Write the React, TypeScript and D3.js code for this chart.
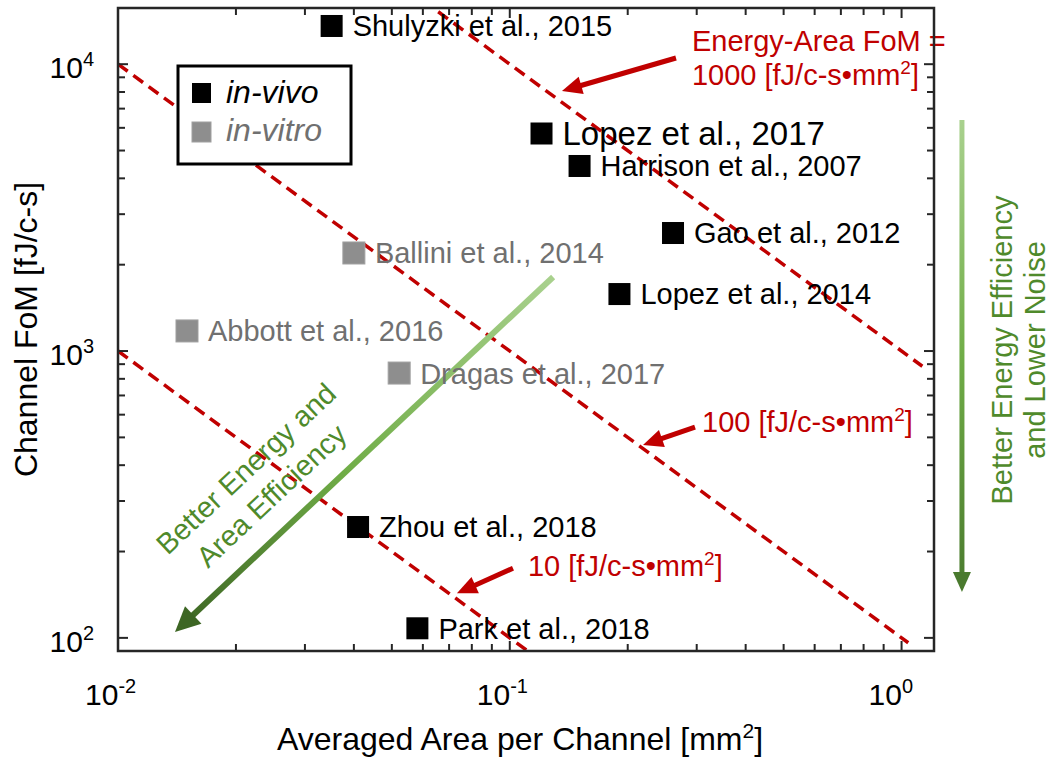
import React from 'react';
import * as d3 from 'd3';

// ---------------- data ----------------
const inVivoLabels = ['Shulyzki et al., 2015', 'Lopez et al., 2017', 'Harrison et al., 2007', 'Gao et al., 2012', 'Lopez et al., 2014', 'Zhou et al., 2018', 'Park et al., 2018'];
const inVivoArea = [0.0351, 0.1205, 0.1507, 0.261, 0.1905, 0.041, 0.0581];
const inVivoFoM = [13590, 5733, 4417, 2579, 1580, 243.5, 108];
const inVivoLabelSize = [29, 33, 29, 29, 29, 29, 29];

const inVitroLabels = ['Ballini et al., 2014', 'Abbott et al., 2016', 'Dragas et al., 2017'];
const inVitroArea = [0.04, 0.015, 0.0522];
const inVitroFoM = [2197, 1175, 838];

const fomLevels = [10, 100, 1000];
const fomAreaStart = [0.01, 0.01, 0.06];
const fomAreaEnd = [0.115, 1.04, 1.13];
const fomLabelPrefix = ['', '', 'Energy-Area FoM ='];
const fomLabelArea = [0.1113, 0.3095, 0.2917];
const fomLabelFoM = [164, 522, 11120];
const fomArrowTailArea = [0.1019, 0.297, 0.2656];
const fomArrowTailFoM = [175, 543, 10510];
const fomArrowTipArea = [0.0733, 0.2188, 0.1359];
const fomArrowTipFoM = [143, 470, 8063];

const diagArrowArea = [0.129, 0.01398];
const diagArrowFoM = [1812, 104.8];
const diagTextLines = ['Better Energy and', 'Area Efficiency'];
const diagTextArea = 0.0221;
const diagTextFoM = 367;

const vArrowArea = 1.426;
const vArrowFoM = [6390, 144.5];
const vTextLines = ['Better Energy Efficiency', 'and Lower Noise'];
const vTextFoM = 1008;

const xTickExps = [-2, -1, 0];
const yTickExps = [2, 3, 4];
const legendLabels = ['in-vivo', 'in-vitro'];

// ---------------- layout ----------------
const W = 1050, H = 762;
const L = 118, R = 934, T = 8, B = 651;
const RED = '#c00000';
const FONT = '"Liberation Sans", Arial, Helvetica, sans-serif';
const AX = '#262626';
const GRAYFILL = '#8e8e8e';
const GRAYTEXT = '#707070';
const GREENTEXT = '#4f8a2b';

const x = d3.scaleLog().domain([0.01, 1.21]).range([L, R]);
const y = d3.scaleLog().domain([90, 15700]).range([B, T]);

function arrowParts(x1: number, y1: number, x2: number, y2: number, headLen: number, headHalf: number) {
  const dx = x2 - x1, dy = y2 - y1;
  const len = Math.hypot(dx, dy);
  const ux = dx / len, uy = dy / len;
  const bx = x2 - ux * headLen, by = y2 - uy * headLen;
  const px = -uy, py = ux;
  const pts = [[x2, y2], [bx + px * headHalf, by + py * headHalf], [bx - px * headHalf, by - py * headHalf]];
  return { shaftEnd: [bx + ux * 2, by + uy * 2], poly: pts.map(p => p.join(',')).join(' ') };
}

function Pow10({ exp, xPos, yPos, anchor }: { exp: number; xPos: number; yPos: number; anchor: string }) {
  return (
    <text x={xPos} y={yPos} fontSize={30} fontFamily={FONT} fill="#000" textAnchor={anchor}>
      <tspan>10</tspan>
      <tspan fontSize={20} dy={-12}>{String(exp)}</tspan>
    </text>
  );
}

export default function App() {
  const xTicksMajor = xTickExps.map(e => Math.pow(10, e));
  const xTicksMinor: number[] = [];
  for (let e = -2; e <= 0; e++) for (let m = 2; m <= 9; m++) { const v = m * Math.pow(10, e); if (v < 1.21) xTicksMinor.push(v); }
  const yTicksMajor = yTickExps.map(e => Math.pow(10, e));
  const yTicksMinor: number[] = [];
  for (let e = 1; e <= 4; e++) for (let m = 2; m <= 9; m++) { const v = m * Math.pow(10, e); if (v > 90 && v < 15700) yTicksMinor.push(v); }

  const majT = 10, minT = 7;

  const dTail = [x(diagArrowArea[0]), y(diagArrowFoM[0])];
  const dTip = [x(diagArrowArea[1]), y(diagArrowFoM[1])];
  const dArrow = arrowParts(dTail[0], dTail[1], dTip[0], dTip[1], 25, 12);
  const diagAngle = Math.atan2(dTail[1] - dTip[1], dTail[0] - dTip[0]) * 180 / Math.PI;

  const vx = x(vArrowArea);
  const vTail = [vx, y(vArrowFoM[0])];
  const vTip = [vx, y(vArrowFoM[1])];
  const vArrow = arrowParts(vTail[0], vTail[1], vTip[0], vTip[1], 20, 9);

  return (
    <svg width={W} height={H} style={{ position: 'absolute', left: 0, top: 0, background: '#fff' }} fontFamily={FONT}>
      <defs>
        <clipPath id="plotClip"><rect x={L} y={T} width={R - L} height={B - T} /></clipPath>
        <linearGradient id="diagGrad" gradientUnits="userSpaceOnUse" x1={dTail[0]} y1={dTail[1]} x2={dTip[0]} y2={dTip[1]}>
          <stop offset="0" stopColor="#a9d18e" />
          <stop offset="0.55" stopColor="#70ad47" />
          <stop offset="1" stopColor="#3b6322" />
        </linearGradient>
        <linearGradient id="vGrad" gradientUnits="userSpaceOnUse" x1={vTail[0]} y1={vTail[1]} x2={vTip[0]} y2={vTip[1]}>
          <stop offset="0" stopColor="#a9d18e" />
          <stop offset="0.5" stopColor="#70ad47" />
          <stop offset="1" stopColor="#4a7a2e" />
        </linearGradient>
      </defs>
      <rect x={0} y={0} width={W} height={H} fill="#fff" />

      {/* FoM dashed lines */}
      <g clipPath="url(#plotClip)">
        {fomLevels.map((k, i) => (
          <line key={i} x1={x(fomAreaStart[i])} y1={y(k / fomAreaStart[i])} x2={x(fomAreaEnd[i])} y2={y(k / fomAreaEnd[i])}
            stroke={RED} strokeWidth={3.5} strokeDasharray="12,7" />
        ))}
      </g>

      {/* diagonal green arrow */}
      <line x1={dTail[0]} y1={dTail[1]} x2={dArrow.shaftEnd[0]} y2={dArrow.shaftEnd[1]} stroke="url(#diagGrad)" strokeWidth={6} />
      <polygon points={dArrow.poly} fill="#3d6624" />
      <g transform={`translate(${x(diagTextArea)},${y(diagTextFoM)}) rotate(${diagAngle})`}>
        {diagTextLines.map((t, i) => (
          <text key={i} x={0} y={i * 37} textAnchor="middle" fontSize={29} fill={GREENTEXT}>{t}</text>
        ))}
      </g>

      {/* data points */}
      {inVitroArea.map((a, i) => (
        <g key={'vt' + i}>
          <rect x={x(a) - 11} y={y(inVitroFoM[i]) - 11} width={22} height={22} fill={GRAYFILL} stroke="#a0a0a0" strokeWidth={1} />
          <text x={x(a) + 21} y={y(inVitroFoM[i]) + 10.5} fontSize={29} fill={GRAYTEXT}>{inVitroLabels[i]}</text>
        </g>
      ))}
      {inVivoArea.map((a, i) => (
        <g key={'vv' + i}>
          <rect x={x(a) - 11} y={y(inVivoFoM[i]) - 11} width={22} height={22} fill="#000" />
          <text x={x(a) + 21} y={y(inVivoFoM[i]) + inVivoLabelSize[i] * 0.36} fontSize={inVivoLabelSize[i]} fill="#000">{inVivoLabels[i]}</text>
        </g>
      ))}

      {/* FoM annotations */}
      {fomLevels.map((k, i) => {
        const t1 = [x(fomArrowTailArea[i]), y(fomArrowTailFoM[i])];
        const t2 = [x(fomArrowTipArea[i]), y(fomArrowTipFoM[i])];
        const ar = arrowParts(t1[0], t1[1], t2[0], t2[1], 20, 9);
        const lx = x(fomLabelArea[i]);
        const ly = y(fomLabelFoM[i]);
        const hasPrefix = fomLabelPrefix[i] !== '';
        return (
          <g key={'ann' + i}>
            <line x1={t1[0]} y1={t1[1]} x2={ar.shaftEnd[0]} y2={ar.shaftEnd[1]} stroke={RED} strokeWidth={5} />
            <polygon points={ar.poly} fill={RED} />
            {hasPrefix && <text x={lx} y={ly} fontSize={29} fill={RED}>{fomLabelPrefix[i]}</text>}
            <text x={lx} y={hasPrefix ? ly + 34 : ly} fontSize={29} fill={RED}>
              <tspan>{`${k} [fJ/c-s•mm`}</tspan>
              <tspan fontSize={19} dy={-11}>2</tspan>
              <tspan dy={11}>]</tspan>
            </text>
          </g>
        );
      })}

      {/* legend */}
      <rect x={178} y={66} width={173} height={98} fill="#fff" stroke="#000" strokeWidth={3} />
      <rect x={192} y={83} width={19} height={20} fill="#000" />
      <rect x={192} y={122} width={19} height={20} fill={GRAYFILL} stroke="#a0a0a0" strokeWidth={1} />
      <text x={226} y={103} fontSize={32} fontStyle="italic" fill="#000">{legendLabels[0]}</text>
      <text x={226} y={141} fontSize={32} fontStyle="italic" fill={GRAYTEXT}>{legendLabels[1]}</text>

      {/* axes box */}
      <rect x={L} y={T} width={R - L} height={B - T} fill="none" stroke={AX} strokeWidth={2.5} />
      {xTicksMajor.map((v, i) => (
        <g key={'xM' + i}>
          <line x1={x(v)} x2={x(v)} y1={B} y2={B - majT} stroke={AX} strokeWidth={2} />
          <line x1={x(v)} x2={x(v)} y1={T} y2={T + majT} stroke={AX} strokeWidth={2} />
        </g>
      ))}
      {xTicksMinor.map((v, i) => (
        <g key={'xm' + i}>
          <line x1={x(v)} x2={x(v)} y1={B} y2={B - minT} stroke={AX} strokeWidth={2} />
          <line x1={x(v)} x2={x(v)} y1={T} y2={T + minT} stroke={AX} strokeWidth={2} />
        </g>
      ))}
      {yTicksMajor.map((v, i) => (
        <g key={'yM' + i}>
          <line x1={L} x2={L + majT} y1={y(v)} y2={y(v)} stroke={AX} strokeWidth={2} />
          <line x1={R} x2={R - majT} y1={y(v)} y2={y(v)} stroke={AX} strokeWidth={2} />
        </g>
      ))}
      {yTicksMinor.map((v, i) => (
        <g key={'ym' + i}>
          <line x1={L} x2={L + minT} y1={y(v)} y2={y(v)} stroke={AX} strokeWidth={2} />
          <line x1={R} x2={R - minT} y1={y(v)} y2={y(v)} stroke={AX} strokeWidth={2} />
        </g>
      ))}

      {/* tick labels */}
      {xTickExps.map((e, i) => (
        <Pow10 key={'xl' + i} exp={e} xPos={x(Math.pow(10, e)) - 33} yPos={705} anchor="start" />
      ))}
      {yTickExps.map((e, i) => (
        <Pow10 key={'yl' + i} exp={e} xPos={94} yPos={y(Math.pow(10, e)) + 14} anchor="end" />
      ))}

      {/* axis titles */}
      <text x={(L + R) / 2 - 6} y={750} textAnchor="middle" fontSize={32} fill="#000">
        <tspan>Averaged Area per Channel [mm</tspan>
        <tspan fontSize={21} dy={-12}>2</tspan>
        <tspan dy={12}>]</tspan>
      </text>
      <text transform={`translate(37,${(T + B) / 2}) rotate(-90)`} textAnchor="middle" fontSize={32} fill="#000">Channel FoM [fJ/c-s]</text>

      {/* vertical green arrow */}
      <line x1={vTail[0]} y1={vTail[1]} x2={vArrow.shaftEnd[0]} y2={vArrow.shaftEnd[1]} stroke="url(#vGrad)" strokeWidth={5} />
      <polygon points={vArrow.poly} fill="#4a7a2e" />
      {vTextLines.map((t, i) => (
        <text key={'vt' + i} transform={`translate(${vx + 50 + i * 33},${y(vTextFoM)}) rotate(-90)`} textAnchor="middle" fontSize={29} fill={GREENTEXT}>{t}</text>
      ))}
    </svg>
  );
}
